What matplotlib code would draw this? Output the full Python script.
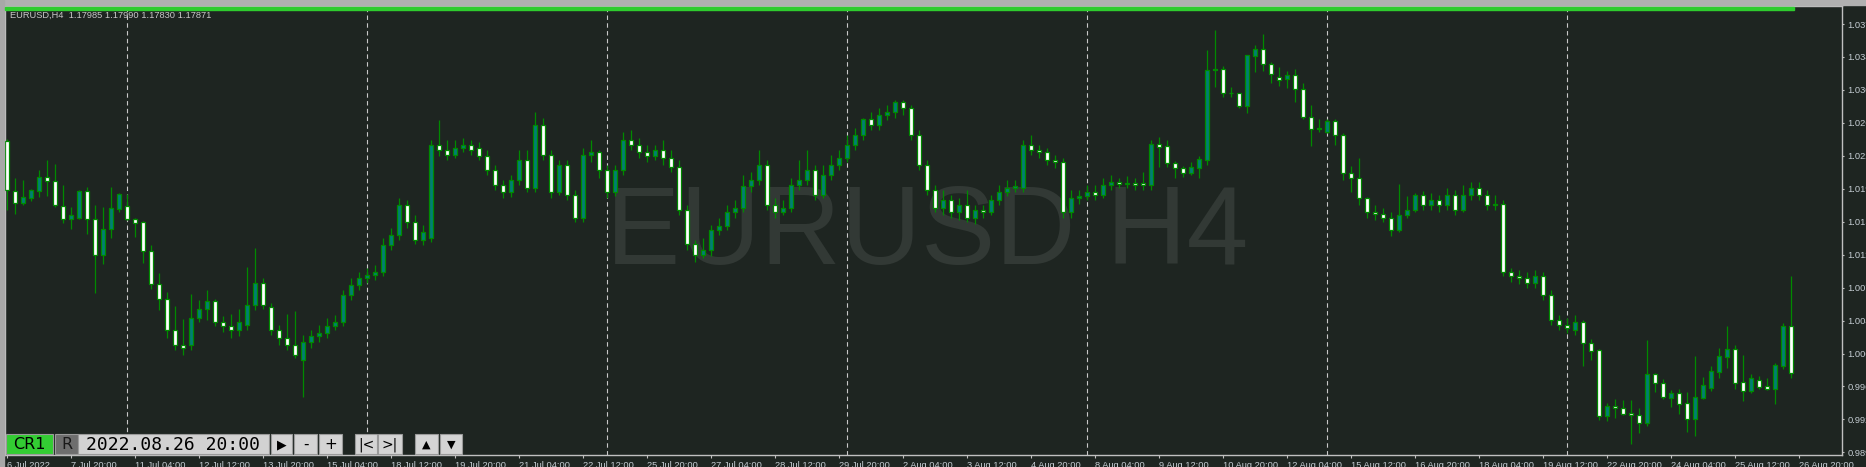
import matplotlib
matplotlib.use("Agg")
import matplotlib.pyplot as plt
from matplotlib.patches import Rectangle

W, H = 1866, 467

# EURUSD H4 candles, 6 Jul 2022 12:00 .. 26 Aug 2022
opens = [
    1.0246, 1.0189, 1.0175, 1.0181, 1.0189, 1.0205, 1.0200, 1.0172, 1.0157, 1.0158,
    1.0189, 1.0157, 1.0116, 1.0146, 1.0168, 1.0172, 1.0157, 1.0154, 1.0121, 1.0083,
    1.0066, 1.0031, 1.0014, 1.0014, 1.0044, 1.0055, 1.0064, 1.0040, 1.0035, 1.0031,
    1.0036, 1.0059, 1.0084, 1.0057, 1.0031, 1.0022, 1.0014, 0.9997, 1.0017, 1.0024,
    1.0027, 1.0035, 1.0040, 1.0071, 1.0082, 1.0090, 1.0093, 1.0097, 1.0127, 1.0139,
    1.0173, 1.0154, 1.0133, 1.0135, 1.0241, 1.0236, 1.0230, 1.0238, 1.0241, 1.0238,
    1.0229, 1.0213, 1.0196, 1.0188, 1.0201, 1.0224, 1.0192, 1.0264, 1.0230, 1.0188,
    1.0219, 1.0184, 1.0158, 1.0230, 1.0233, 1.0213, 1.0188, 1.0213, 1.0247, 1.0241,
    1.0233, 1.0229, 1.0236, 1.0227, 1.0216, 1.0167, 1.0129, 1.0116, 1.0122, 1.0145,
    1.0149, 1.0165, 1.0170, 1.0195, 1.0201, 1.0219, 1.0173, 1.0165, 1.0170, 1.0196,
    1.0201, 1.0213, 1.0184, 1.0207, 1.0219, 1.0227, 1.0241, 1.0253, 1.0271, 1.0264,
    1.0275, 1.0279, 1.0290, 1.0283, 1.0253, 1.0219, 1.0190, 1.0170, 1.0179, 1.0165,
    1.0173, 1.0158, 1.0167, 1.0165, 1.0179, 1.0188, 1.0192, 1.0192, 1.0241, 1.0236,
    1.0233, 1.0224, 1.0222, 1.0165, 1.0181, 1.0183, 1.0188, 1.0184, 1.0196, 1.0199,
    1.0197, 1.0198, 1.0198, 1.0196, 1.0242, 1.0240, 1.0221, 1.0215, 1.0209, 1.0215,
    1.0224, 1.0327, 1.0328, 1.0300, 1.0300, 1.0286, 1.0343, 1.0351, 1.0333, 1.0319,
    1.0316, 1.0321, 1.0305, 1.0273, 1.0260, 1.0256, 1.0269, 1.0253, 1.0209, 1.0204,
    1.0181, 1.0165, 1.0163, 1.0158, 1.0145, 1.0162, 1.0167, 1.0184, 1.0173, 1.0179,
    1.0173, 1.0184, 1.0167, 1.0184, 1.0192, 1.0184, 1.0173, 1.0174, 1.0097, 1.0092,
    1.0090, 1.0084, 1.0092, 1.0071, 1.0042, 1.0036, 1.0031, 1.0040, 1.0016, 1.0008,
    0.9933, 0.9944, 0.9942, 0.9936, 0.9934, 0.9925, 0.9981, 0.9970, 0.9953, 0.9959,
    0.9948, 0.9929, 0.9953, 0.9965, 0.9983, 1.0000, 1.0009, 0.9972, 0.9961, 0.9974,
    0.9967, 0.9964, 0.9990, 1.0035,
]
highs = [
    1.0248, 1.0204, 1.0201, 1.0191, 1.0213, 1.0224, 1.0220, 1.0196, 1.0171, 1.0190,
    1.0193, 1.0173, 1.0171, 1.0193, 1.0187, 1.0186, 1.0158, 1.0155, 1.0127, 1.0096,
    1.0074, 1.0058, 1.0043, 1.0072, 1.0065, 1.0076, 1.0066, 1.0047, 1.0049, 1.0055,
    1.0102, 1.0124, 1.0090, 1.0061, 1.0036, 1.0049, 1.0052, 1.0025, 1.0031, 1.0036,
    1.0044, 1.0048, 1.0076, 1.0090, 1.0097, 1.0101, 1.0105, 1.0135, 1.0147, 1.0181,
    1.0179, 1.0162, 1.0150, 1.0247, 1.0270, 1.0247, 1.0247, 1.0249, 1.0247, 1.0245,
    1.0236, 1.0219, 1.0201, 1.0207, 1.0236, 1.0236, 1.0279, 1.0272, 1.0236, 1.0224,
    1.0224, 1.0190, 1.0238, 1.0247, 1.0236, 1.0219, 1.0219, 1.0256, 1.0258, 1.0249,
    1.0241, 1.0241, 1.0247, 1.0236, 1.0224, 1.0173, 1.0133, 1.0135, 1.0150, 1.0158,
    1.0173, 1.0179, 1.0207, 1.0211, 1.0236, 1.0224, 1.0181, 1.0179, 1.0204, 1.0224,
    1.0236, 1.0219, 1.0219, 1.0230, 1.0236, 1.0253, 1.0261, 1.0272, 1.0279, 1.0283,
    1.0287, 1.0293, 1.0293, 1.0287, 1.0258, 1.0224, 1.0196, 1.0190, 1.0184, 1.0181,
    1.0190, 1.0173, 1.0173, 1.0184, 1.0196, 1.0201, 1.0201, 1.0247, 1.0253, 1.0241,
    1.0238, 1.0230, 1.0227, 1.0190, 1.0190, 1.0196, 1.0196, 1.0204, 1.0207, 1.0204,
    1.0206, 1.0204, 1.0211, 1.0247, 1.0250, 1.0247, 1.0223, 1.0217, 1.0222, 1.0229,
    1.0349, 1.0372, 1.0331, 1.0307, 1.0301, 1.0344, 1.0355, 1.0368, 1.0336, 1.0330,
    1.0325, 1.0328, 1.0312, 1.0287, 1.0271, 1.0271, 1.0271, 1.0255, 1.0217, 1.0227,
    1.0182, 1.0173, 1.0170, 1.0165, 1.0197, 1.0183, 1.0187, 1.0189, 1.0187, 1.0184,
    1.0192, 1.0190, 1.0196, 1.0199, 1.0199, 1.0190, 1.0184, 1.0179, 1.0101, 1.0099,
    1.0097, 1.0099, 1.0097, 1.0076, 1.0048, 1.0044, 1.0048, 1.0042, 1.0021, 1.0009,
    0.9948, 0.9952, 0.9951, 0.9951, 0.9942, 1.0019, 0.9982, 0.9975, 0.9962, 0.9964,
    0.9960, 1.0001, 0.9977, 0.9990, 1.0010, 1.0035, 1.0014, 1.0002, 0.9981, 0.9978,
    0.9976, 0.9993, 1.0039, 1.0092,
]
lows = [
    1.0167, 1.0163, 1.0173, 1.0178, 1.0182, 1.0183, 1.0171, 1.0153, 1.0146, 1.0157,
    1.0140, 1.0073, 1.0106, 1.0135, 1.0165, 1.0156, 1.0137, 1.0107, 1.0077, 1.0054,
    1.0022, 1.0008, 1.0002, 1.0008, 1.0040, 1.0042, 1.0035, 1.0028, 1.0022, 1.0024,
    1.0031, 1.0054, 1.0055, 1.0025, 1.0014, 1.0008, 0.9999, 0.9955, 1.0010, 1.0017,
    1.0022, 1.0031, 1.0035, 1.0065, 1.0076, 1.0084, 1.0088, 1.0092, 1.0122, 1.0133,
    1.0147, 1.0129, 1.0127, 1.0131, 1.0229, 1.0224, 1.0227, 1.0233, 1.0230, 1.0224,
    1.0207, 1.0190, 1.0181, 1.0182, 1.0196, 1.0188, 1.0188, 1.0224, 1.0181, 1.0184,
    1.0179, 1.0154, 1.0154, 1.0222, 1.0204, 1.0181, 1.0183, 1.0207, 1.0236, 1.0227,
    1.0222, 1.0224, 1.0219, 1.0211, 1.0162, 1.0122, 1.0108, 1.0113, 1.0115, 1.0139,
    1.0145, 1.0158, 1.0165, 1.0188, 1.0196, 1.0167, 1.0158, 1.0162, 1.0165, 1.0190,
    1.0196, 1.0179, 1.0181, 1.0201, 1.0213, 1.0222, 1.0236, 1.0247, 1.0258, 1.0258,
    1.0270, 1.0272, 1.0275, 1.0247, 1.0213, 1.0184, 1.0165, 1.0162, 1.0158, 1.0156,
    1.0154, 1.0151, 1.0158, 1.0162, 1.0173, 1.0183, 1.0188, 1.0188, 1.0230, 1.0227,
    1.0219, 1.0215, 1.0158, 1.0158, 1.0174, 1.0179, 1.0179, 1.0181, 1.0190, 1.0192,
    1.0192, 1.0190, 1.0190, 1.0190, 1.0216, 1.0216, 1.0204, 1.0205, 1.0207, 1.0204,
    1.0219, 1.0307, 1.0296, 1.0296, 1.0283, 1.0278, 1.0324, 1.0326, 1.0312, 1.0308,
    1.0306, 1.0290, 1.0271, 1.0240, 1.0256, 1.0255, 1.0241, 1.0201, 1.0188, 1.0173,
    1.0158, 1.0156, 1.0154, 1.0138, 1.0142, 1.0158, 1.0165, 1.0167, 1.0167, 1.0165,
    1.0167, 1.0162, 1.0165, 1.0179, 1.0179, 1.0167, 1.0167, 1.0092, 1.0085, 1.0083,
    1.0079, 1.0079, 1.0065, 1.0036, 1.0031, 1.0027, 1.0025, 0.9990, 0.9997, 0.9928,
    0.9927, 0.9931, 0.9934, 0.9901, 0.9914, 0.9922, 0.9960, 0.9952, 0.9943, 0.9935,
    0.9915, 0.9910, 0.9952, 0.9961, 0.9976, 0.9988, 0.9964, 0.9950, 0.9959, 0.9964,
    0.9963, 0.9947, 0.9986, 0.9976,
]
closes = [
    1.0190, 1.0175, 1.0182, 1.0190, 1.0205, 1.0200, 1.0173, 1.0157, 1.0162, 1.0189,
    1.0157, 1.0116, 1.0146, 1.0170, 1.0186, 1.0157, 1.0153, 1.0121, 1.0083, 1.0066,
    1.0031, 1.0014, 1.0010, 1.0044, 1.0055, 1.0064, 1.0040, 1.0035, 1.0031, 1.0040,
    1.0059, 1.0084, 1.0059, 1.0031, 1.0022, 1.0014, 1.0002, 1.0017, 1.0024, 1.0027,
    1.0035, 1.0040, 1.0071, 1.0082, 1.0090, 1.0093, 1.0097, 1.0127, 1.0139, 1.0173,
    1.0154, 1.0133, 1.0142, 1.0241, 1.0236, 1.0230, 1.0238, 1.0241, 1.0236, 1.0229,
    1.0213, 1.0196, 1.0188, 1.0201, 1.0224, 1.0192, 1.0264, 1.0230, 1.0188, 1.0219,
    1.0184, 1.0158, 1.0230, 1.0233, 1.0213, 1.0188, 1.0213, 1.0247, 1.0241, 1.0233,
    1.0229, 1.0236, 1.0227, 1.0216, 1.0167, 1.0129, 1.0116, 1.0122, 1.0145, 1.0149,
    1.0165, 1.0170, 1.0195, 1.0201, 1.0219, 1.0173, 1.0165, 1.0170, 1.0196, 1.0201,
    1.0213, 1.0184, 1.0207, 1.0219, 1.0227, 1.0241, 1.0253, 1.0271, 1.0264, 1.0275,
    1.0279, 1.0290, 1.0283, 1.0253, 1.0219, 1.0190, 1.0170, 1.0179, 1.0165, 1.0173,
    1.0158, 1.0167, 1.0165, 1.0179, 1.0188, 1.0192, 1.0195, 1.0241, 1.0236, 1.0233,
    1.0224, 1.0222, 1.0165, 1.0181, 1.0183, 1.0188, 1.0184, 1.0196, 1.0199, 1.0197,
    1.0198, 1.0196, 1.0196, 1.0242, 1.0239, 1.0221, 1.0215, 1.0209, 1.0216, 1.0225,
    1.0327, 1.0327, 1.0300, 1.0300, 1.0286, 1.0344, 1.0351, 1.0333, 1.0322, 1.0315,
    1.0321, 1.0305, 1.0273, 1.0260, 1.0260, 1.0269, 1.0253, 1.0209, 1.0204, 1.0181,
    1.0165, 1.0163, 1.0158, 1.0145, 1.0162, 1.0167, 1.0184, 1.0173, 1.0179, 1.0173,
    1.0184, 1.0167, 1.0184, 1.0192, 1.0184, 1.0173, 1.0174, 1.0097, 1.0092, 1.0090,
    1.0084, 1.0092, 1.0071, 1.0042, 1.0036, 1.0033, 1.0040, 1.0016, 1.0007, 0.9933,
    0.9944, 0.9942, 0.9935, 0.9934, 0.9925, 0.9981, 0.9970, 0.9955, 0.9959, 0.9947,
    0.9929, 0.9955, 0.9968, 0.9984, 1.0001, 1.0009, 0.9970, 0.9961, 0.9976, 0.9966,
    0.9964, 0.9991, 1.0035, 0.9982,
]

time_labels = [
    "6 Jul 2022", "7 Jul 20:00", "11 Jul 04:00", "12 Jul 12:00", "13 Jul 20:00",
    "15 Jul 04:00", "18 Jul 12:00", "19 Jul 20:00", "21 Jul 04:00", "22 Jul 12:00",
    "25 Jul 20:00", "27 Jul 04:00", "28 Jul 12:00", "29 Jul 20:00", "2 Aug 04:00",
    "3 Aug 12:00", "4 Aug 20:00", "8 Aug 04:00", "9 Aug 12:00", "10 Aug 20:00",
    "12 Aug 04:00", "15 Aug 12:00", "16 Aug 20:00", "18 Aug 04:00", "19 Aug 12:00",
    "22 Aug 20:00", "24 Aug 04:00", "25 Aug 12:00", "26 Aug 20:00",
]
price_ticks = [1.03790, 1.03415, 1.03040, 1.02665, 1.02290, 1.01915, 1.01540,
               1.01165, 1.00790, 1.00415, 1.00040, 0.99665, 0.99290, 0.98915]
week_bars = [15, 45, 75, 105, 135, 165, 195]   # Monday 00:00 bars

BG = "#1e2521"
EDGE = "#008a00"
BULL = "#007f74"
BEAR = "#ffffff"
TXT = "#c4ccd2"
SMALL = 6.7
UIFONT = "Liberation Sans"


def fig_box(x0, y0, x1, y1):
    # pixel box (top-left origin) -> figure fraction
    return (x0 / W, 1 - y1 / H), (x1 - x0) / W, (y1 - y0) / H


fig = plt.figure(figsize=(W / 100, H / 100), dpi=100, facecolor=BG)
ax = fig.add_axes([5 / W, 12 / H, 1837 / W, 449 / H], facecolor=BG)

n = len(closes)
xs = list(range(n))
ax.set_xlim(-0.21, 229.41)
ax.set_ylim(0.98885, 1.03995)

# watermark
ax.text(115, 1.0139, "EURUSD H4", ha="center", va="center", fontsize=80,
        family="Liberation Sans", color="#323935", zorder=0)

# weekly separators
for b in week_bars:
    ax.axvline(b, color="#c8c8c8", lw=0.8, ls=(0, (4, 3)), zorder=1)

# candles
ax.vlines(xs, lows, highs, color=EDGE, lw=0.9, zorder=2)
bottoms = [min(o, c) for o, c in zip(opens, closes)]
heights = [max(abs(c - o), 0.00003) for o, c in zip(opens, closes)]
fills = [BULL if c > o else BEAR for o, c in zip(opens, closes)]
ax.bar(xs, heights, bottom=bottoms, width=0.5, color=fills, edgecolor=EDGE,
       linewidth=0.9, zorder=3)

# axes styling
for s in ax.spines.values():
    s.set_color("#c0c0c0")
    s.set_linewidth(1)
ax.yaxis.tick_right()
ax.set_yticks(price_ticks)
ax.set_yticklabels(["%.5f" % v for v in price_ticks], family=UIFONT)
ax.tick_params(axis="y", length=1.5, pad=2.2, labelsize=SMALL, colors="#c0c0c0",
               labelcolor=TXT)
ax.set_xticks(range(0, 8 * len(time_labels), 8))
ax.set_xticklabels(time_labels, ha="left", family=UIFONT)
ax.tick_params(axis="x", length=2.5, pad=1.5, labelsize=SMALL, colors="#c0c0c0",
               labelcolor=TXT)

# window frame and top strip
fig.add_artist(Rectangle((0, 1 - 5 / H), 1, 5 / H, transform=fig.transFigure,
                         color="#b0b0b0", zorder=5))
fig.add_artist(Rectangle((0, 0), 4 / W, 1, transform=fig.transFigure,
                         color="#a8a8a8", zorder=5))
fig.add_artist(Rectangle(*fig_box(5, 7, 1794, 10), transform=fig.transFigure,
                         color="#2ecc2e", zorder=6))

fig.text(10 / W, 1 - 15 / H, "EURUSD,H4  1.17985 1.17990 1.17830 1.17871",
         fontsize=SMALL, family=UIFONT, color="#c8c8c8", va="center", zorder=6)

# bottom-left toolbar
buttons = [
    (6, 53, "CR1", "#33cc33", "#000000", 11.5, "DejaVu Sans"),
    (55, 78, "R", "#6e6e6e", "#1a1a1a", 11.5, "DejaVu Sans"),
    (78, 269, "2022.08.26 20:00", "#d2d2d2", "#000000", 13, "DejaVu Sans Mono"),
    (271, 292, "\u25b6", "#d4d4d4", "#000000", 9, "DejaVu Sans"),
    (294, 317, "-", "#d4d4d4", "#000000", 11, "DejaVu Sans"),
    (319, 342, "+", "#d4d4d4", "#000000", 11, "DejaVu Sans"),
    (355, 377, "|<", "#d4d4d4", "#000000", 10, "DejaVu Sans"),
    (378, 402, ">|", "#d4d4d4", "#000000", 10, "DejaVu Sans"),
    (415, 438, "\u25b2", "#d4d4d4", "#000000", 8, "DejaVu Sans"),
    (440, 462, "\u25bc", "#d4d4d4", "#000000", 8, "DejaVu Sans"),
]
for x0, x1, label, face, fg, fs, fam in buttons:
    fig.add_artist(Rectangle(*fig_box(x0, 434, x1, 454), transform=fig.transFigure,
                             facecolor=face, edgecolor="#9a9a9a", lw=0.8, zorder=7))
    fig.text((x0 + x1) / 2 / W, 1 - 444.5 / H, label, ha="center", va="center",
             fontsize=fs, family=fam, color=fg, zorder=8)

fig.savefig("out.png", dpi=100, facecolor=BG)
